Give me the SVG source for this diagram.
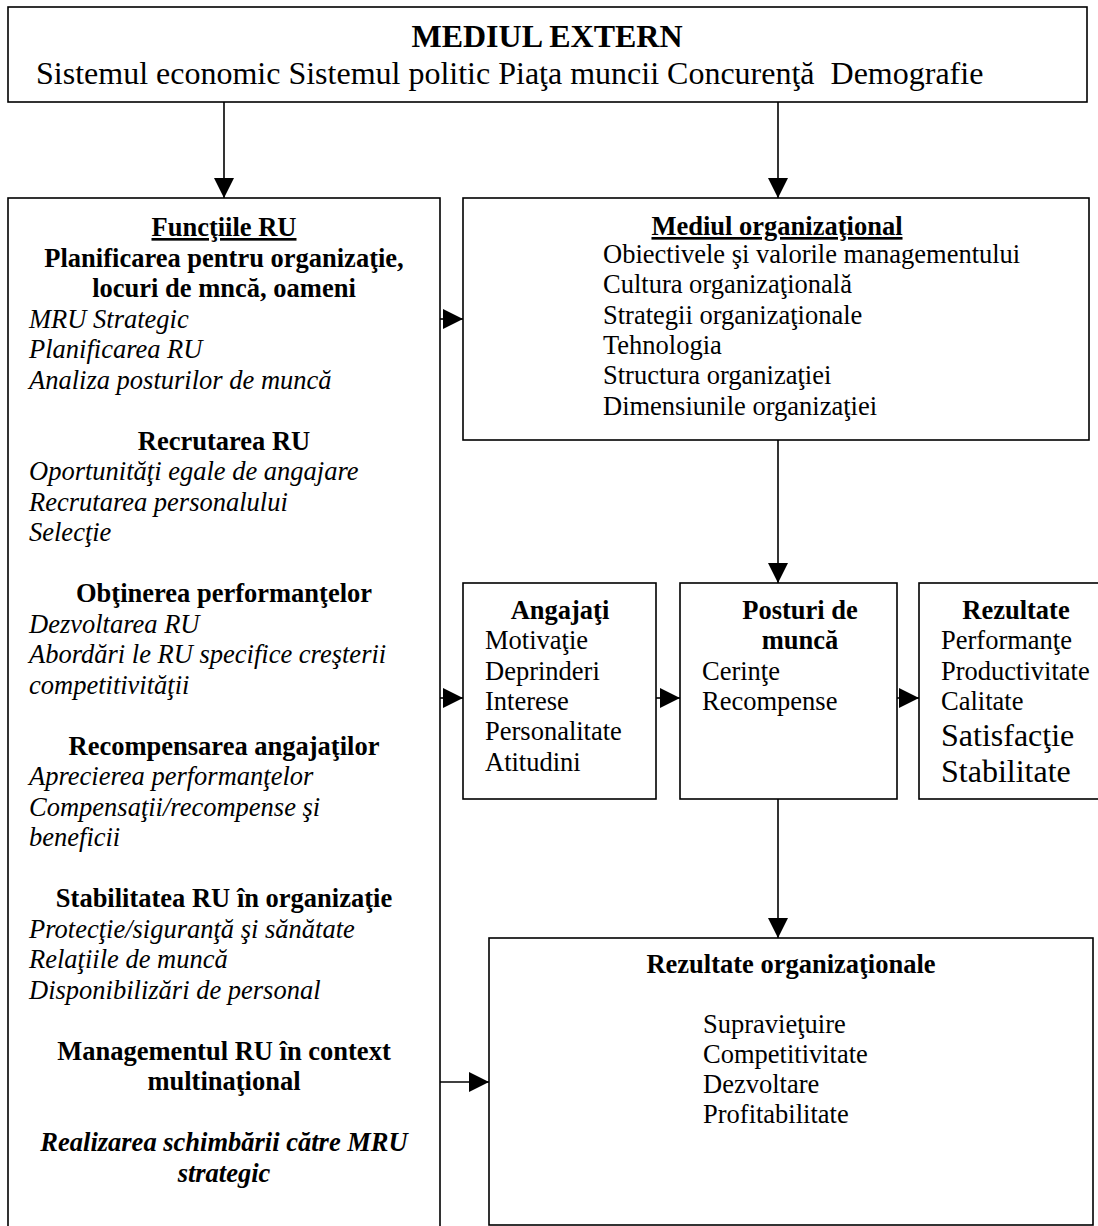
<svg xmlns="http://www.w3.org/2000/svg" width="1098" height="1226" viewBox="0 0 1098 1226">
<style>
.box{fill:#fff;stroke:#000;stroke-width:1.6}
.t{font-family:"Liberation Serif","Times New Roman",serif;font-size:26.5px;fill:#000}
.big{font-size:32px}
.b{font-weight:bold}
.i{font-style:italic}
.c{text-anchor:middle}
.u{text-decoration:underline}
.pre{white-space:pre}
.con{stroke:#000;stroke-width:1.6;fill:none;marker-end:url(#arr)}
</style>
<defs>
<marker id="arr" markerUnits="userSpaceOnUse" markerWidth="20" markerHeight="20" refX="20" refY="10" orient="auto">
<path d="M0,0 L20,10 L0,20 Z" fill="#000"/>
</marker>
</defs>
<rect width="1098" height="1226" fill="#fff"/>

<g id="mediul-extern">
<rect class="box" x="8" y="7" width="1079" height="95"/>
<text class="t big b c" x="547" y="47">MEDIUL EXTERN</text>
<text class="t big pre" x="36" y="84" xml:space="preserve">Sistemul economic Sistemul politic Piaţa muncii Concurenţă  Demografie</text>
</g>

<g id="functiile-ru">
<rect class="box" x="8" y="198" width="432" height="1060"/>
<text class="t b c u" x="224" y="236">Funcţiile RU</text>
<text class="t b c" x="224" y="266.5">Planificarea pentru organizaţie,</text>
<text class="t b c" x="224" y="297">locuri de mncă, oameni</text>
<text class="t i" x="29" y="327.5">MRU Strategic</text>
<text class="t i" x="29" y="358">Planificarea RU</text>
<text class="t i" x="29" y="388.5">Analiza posturilor de muncă</text>
<text class="t b c" x="224" y="449.5">Recrutarea RU</text>
<text class="t i" x="29" y="480">Oportunităţi egale de angajare</text>
<text class="t i" x="29" y="510.5">Recrutarea personalului</text>
<text class="t i" x="29" y="541">Selecţie</text>
<text class="t b c" x="224" y="602">Obţinerea performanţelor</text>
<text class="t i" x="29" y="632.5">Dezvoltarea RU</text>
<text class="t i" x="29" y="663">Abordări le RU specifice creşterii</text>
<text class="t i" x="29" y="693.5">competitivităţii</text>
<text class="t b c" x="224" y="754.5">Recompensarea angajaţilor</text>
<text class="t i" x="29" y="785">Aprecierea performanţelor</text>
<text class="t i" x="29" y="815.5">Compensaţii/recompense şi</text>
<text class="t i" x="29" y="846">beneficii</text>
<text class="t b c" x="224" y="907">Stabilitatea RU în organizaţie</text>
<text class="t i" x="29" y="937.5">Protecţie/siguranţă şi sănătate</text>
<text class="t i" x="29" y="968">Relaţiile de muncă</text>
<text class="t i" x="29" y="998.5">Disponibilizări de personal</text>
<text class="t b c" x="224" y="1059.5">Managementul RU în context</text>
<text class="t b c" x="224" y="1090">multinaţional</text>
<text class="t b i c" x="224" y="1151">Realizarea schimbării către MRU</text>
<text class="t b i c" x="224" y="1181.5">strategic</text>
</g>

<g id="mediul-organizational">
<rect class="box" x="463" y="198" width="626" height="242"/>
<text class="t b c u" x="777" y="235">Mediul organizaţional</text>
<text class="t" x="603" y="263">Obiectivele şi valorile managementului</text>
<text class="t" x="603" y="293.3">Cultura organizaţională</text>
<text class="t" x="603" y="323.6">Strategii organizaţionale</text>
<text class="t" x="603" y="353.9">Tehnologia</text>
<text class="t" x="603" y="384.2">Structura organizaţiei</text>
<text class="t" x="603" y="414.5">Dimensiunile organizaţiei</text>
</g>

<g id="angajati">
<rect class="box" x="463" y="583" width="193" height="216"/>
<text class="t b c" x="560" y="619">Angajaţi</text>
<text class="t" x="485" y="649">Motivaţie</text>
<text class="t" x="485" y="680">Deprinderi</text>
<text class="t" x="485" y="710">Interese</text>
<text class="t" x="485" y="740">Personalitate</text>
<text class="t" x="485" y="771">Atitudini</text>
</g>

<g id="posturi">
<rect class="box" x="680" y="583" width="217" height="216"/>
<text class="t b c" x="800" y="619">Posturi de</text>
<text class="t b c" x="800" y="649">muncă</text>
<text class="t" x="702" y="680">Cerinţe</text>
<text class="t" x="702" y="710">Recompense</text>
</g>

<g id="rezultate">
<rect class="box" x="919" y="583" width="200" height="216"/>
<text class="t b c" x="1016" y="619">Rezultate</text>
<text class="t" x="941" y="649">Performanţe</text>
<text class="t" x="941" y="680">Productivitate</text>
<text class="t" x="941" y="710">Calitate</text>
<text class="t big" x="941" y="746">Satisfacţie</text>
<text class="t big" x="941" y="782">Stabilitate</text>
</g>

<g id="rezultate-organizationale">
<rect class="box" x="489" y="938" width="604" height="287"/>
<text class="t b c" x="791" y="973">Rezultate organizaţionale</text>
<text class="t" x="703" y="1033">Supravieţuire</text>
<text class="t" x="703" y="1063">Competitivitate</text>
<text class="t" x="703" y="1093">Dezvoltare</text>
<text class="t" x="703" y="1123">Profitabilitate</text>
</g>

<g id="connectors">
<line class="con" x1="224" y1="102" x2="224" y2="198"/>
<line class="con" x1="778" y1="102" x2="778" y2="198"/>
<line class="con" x1="440" y1="319" x2="463" y2="319"/>
<line class="con" x1="778" y1="440" x2="778" y2="583"/>
<line class="con" x1="440" y1="698" x2="463" y2="698"/>
<line class="con" x1="656" y1="698" x2="680" y2="698"/>
<line class="con" x1="897" y1="698" x2="919" y2="698"/>
<line class="con" x1="778" y1="799" x2="778" y2="938"/>
<line class="con" x1="440" y1="1082" x2="489" y2="1082"/>
</g>
</svg>
